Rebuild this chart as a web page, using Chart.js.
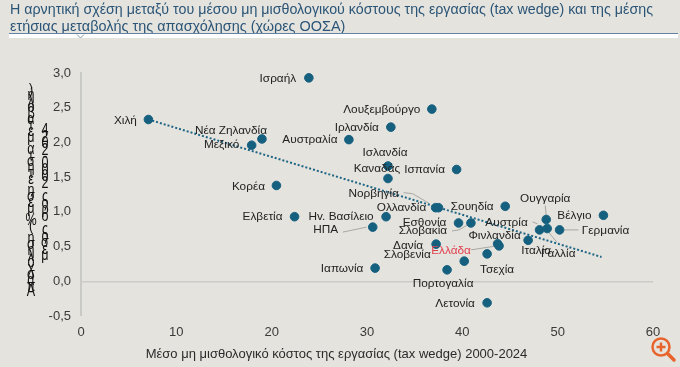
<!DOCTYPE html>
<html lang="el">
<head>
<meta charset="utf-8">
<script src="https://cdn.jsdelivr.net/npm/chart.js@4"></script>
<style>
html,body{margin:0;padding:0;background:#e4e3de;width:680px;height:367px;overflow:hidden}
canvas{display:block;filter:blur(0.35px)}
</style>
</head>
<body>
<canvas id="c" width="680" height="367"></canvas>
<script>
const titleLines = ["Η αρνητική σχέση μεταξύ του μέσου μη μισθολογικού κόστους της εργασίας (tax wedge) και της μέσης","ετήσιας μεταβολής της απασχόλησης (χώρες ΟΟΣΑ)"];
const xTitle = "Μέσο μη μισθολογικό κόστος της εργασίας (tax wedge) 2000-2024";
const yTitleOuter = "Απασχόληση (% μέση ετήσια μεταβολή)";
const yTitleInner = "μέσος όρος 2000-2024";
const countries = ["Ισραήλ","Χιλή","Νέα Ζηλανδία","Μεξικό","Κορέα","Αυστραλία","Λουξεμβούργο","Ιρλανδία","Ισλανδία","Καναδάς","Ισπανία","Ελβετία","Ηv. Βασίλειο","ΗΠΑ","Ιαπωνία","Νορβηγία","Ολλανδία","Σουηδία","Ουγγαρία","Βέλγιο","Γερμανία","Αυστρία","Γαλλία","Εσθονία","Σλοβακία","Φινλανδία","Ελλάδα","Ιταλία","Δανία","Τσεχία","Σλοβενία","Πορτογαλία","Λετονία"];
const taxWedge = [23.9,7.07,18.98,17.9,20.5,28.1,36.8,32.5,32.2,32.2,39.4,22.4,32.0,30.6,30.85,37.2,37.5,44.5,48.8,54.8,50.2,48.1,48.9,39.6,40.9,43.7,43.85,46.9,37.25,42.6,40.2,38.4,42.6];
const employmentGrowth = [2.93,2.33,2.05,1.96,1.38,2.04,2.48,2.22,1.66,1.48,1.61,0.93,0.93,0.78,0.19,1.06,1.06,1.08,0.89,0.95,0.74,0.74,0.76,0.84,0.84,0.54,0.51,0.59,0.535,0.395,0.29,0.165,-0.31];
const trendX = [7.07,54.6];
const trendY = [2.33,0.35];
const xTicks = [0,10,20,30,40,50,60];
const yTicks = [-0.5,0,0.5,1,1.5,2,2.5,3];

// label placement, in pixels relative to each point
const labelOffsets = {"Ισραήλ":[-31,1],"Χιλή":[-23,1],"Νέα Ζηλανδία":[-31,-8],"Μεξικό":[-30,0],"Κορέα":[-28,1],"Αυστραλία":[-39,0],"Λουξεμβούργο":[-50,1],"Ιρλανδία":[-34,1],"Ισλανδία":[-3,-13],"Καναδάς":[-11,-10],"Ισπανία":[-32,0],"Ελβετία":[-32,0],"Ηv. Βασίλειο":[-45,0],"ΗΠΑ":[-47,3],"Ιαπωνία":[-33,1],"Νορβηγία":[-62,-14],"Ολλανδία":[-37,0],"Σουηδία":[-33,0],"Ουγγαρία":[-1,-21],"Βέλγιο":[-29,0],"Γερμανία":[46,1],"Αυστρία":[-33,-7],"Γαλλία":[11,25],"Εσθονία":[-34,0],"Σλοβακία":[-48,8],"Φινλανδία":[-3,-8],"Ελλάδα":[-48,5],"Ιταλία":[8,10],"Δανία":[-28,2],"Τσεχία":[10,16],"Σλοβενία":[-57,-6],"Πορτογαλία":[-4,14],"Λετονία":[-32,1]};
const leaderPaths = {"Νορβηγία":[[-32,-15],[-23,-14],[-6,-4]],"ΗΠΑ":[[-30,5],[-6,0]],"Σλοβακία":[[-19,8],[-12,7],[0,0]],"Ελλάδα":[[-28,4],[-2,0]],"Ουγγαρία":[[-1,-14],[0,-4]],"Αυστρία":[[-7,-8],[-2,-6]],"Γαλλία":[[0,2],[10,14]],"Γερμανία":[[4,0],[19,0]]};

function stackedLetters(ctx,text,x,startY,step){
  [...text].forEach((ch,i)=>{
    ctx.save();
    ctx.translate(x,startY-i*step);
    ctx.scale(1.05,1.35);
    ctx.fillText(ch,0,0);
    ctx.restore();
  });
}

const annotate = {
  id:'annotate',
  beforeDatasetsDraw(chart){
    const ctx=chart.ctx, m=chart.getDatasetMeta(0);
    ctx.save();
    ctx.fillStyle='#ffffff'; ctx.fillRect(9,34,669,4);
    ctx.fillStyle='#6482a2'; ctx.fillRect(9,33,669,1);
    ctx.strokeStyle='#8a9aa8'; ctx.lineWidth=1;
    ctx.beginPath(); ctx.moveTo(77,34.5); ctx.lineTo(80.5,38); ctx.lineTo(84,34.5); ctx.stroke();
    ctx.strokeStyle='#a8a8a4'; ctx.lineWidth=1;
    countries.forEach((n,i)=>{
      const p=leaderPaths[n]; if(!p) return;
      const e=m.data[i];
      ctx.beginPath();
      p.forEach((q,k)=>{ const x=e.x+q[0], y=e.y+q[1]; k?ctx.lineTo(x,y):ctx.moveTo(x,y); });
      ctx.stroke();
    });
    ctx.fillStyle='#111'; ctx.font='12px "Liberation Sans"'; ctx.textAlign='center'; ctx.textBaseline='middle';
    stackedLetters(ctx,yTitleOuter,31,292,5.94);
    stackedLetters(ctx,yTitleInner,45,256,6.6);
    ctx.fillStyle='#2b2b2b'; ctx.font='13px "Liberation Sans"';
    ctx.fillText(xTitle,336.5,354);
    ctx.restore();
  },
  afterDatasetsDraw(chart){
    const ctx=chart.ctx, m=chart.getDatasetMeta(0);
    ctx.save();
    ctx.font='11.8px "Liberation Sans"'; ctx.textAlign='center'; ctx.textBaseline='middle';
    countries.forEach((n,i)=>{
      const e=m.data[i], o=labelOffsets[n];
      ctx.fillStyle = n==='Ελλάδα' ? '#e0404f' : '#222';
      ctx.fillText(n,e.x+o[0],e.y+o[1]);
    });
    ctx.strokeStyle='#e8642c'; ctx.lineWidth=2.5;
    ctx.beginPath(); ctx.arc(661,347,8.5,0,Math.PI*2); ctx.stroke();
    ctx.lineCap='round'; ctx.lineWidth=3.5;
    ctx.beginPath(); ctx.moveTo(667.5,353.5); ctx.lineTo(674,360); ctx.stroke();
    ctx.lineCap='butt'; ctx.lineWidth=2.5;
    ctx.beginPath(); ctx.moveTo(656.5,347); ctx.lineTo(665.5,347); ctx.moveTo(661,342.5); ctx.lineTo(661,351.5); ctx.stroke();
    ctx.restore();
  }
};

new Chart(document.getElementById('c'),{
  type:'scatter',
  data:{datasets:[
    {label:'Χώρες',data:taxWedge.map((x,i)=>({x,y:employmentGrowth[i]})),backgroundColor:'#16607f',borderColor:'#16607f',pointRadius:4.3,order:1},
    {type:'line',label:'Τάση',data:trendX.map((x,i)=>({x,y:trendY[i]})),borderColor:'#1f6585',borderWidth:2,borderDash:[2,2],pointRadius:0,fill:false,order:2}
  ]},
  plugins:[annotate],
  options:{
    responsive:false,animation:false,
    layout:{padding:{left:10,right:27,top:1,bottom:0}},
    plugins:{
      legend:{display:false},tooltip:{enabled:false},
      title:{display:true,text:titleLines,align:'start',color:'#2b5577',
        font:{family:'"Liberation Sans"',size:14.45,weight:'normal',lineHeight:1.2},
        padding:{top:0,bottom:37.3}}
    },
    scales:{
      x:{type:'linear',min:0,max:60,
        afterBuildTicks(s){s.ticks=xTicks.map(value=>({value}));},
        afterFit(s){s.height=51;},
        border:{display:false},grid:{display:false},
        ticks:{padding:1,maxRotation:0,color:'#3a3a3a',font:{family:'"Liberation Sans"',size:13}},
        title:{display:false}
      },
      y:{type:'linear',min:-0.5,max:3,
        afterBuildTicks(s){s.ticks=yTicks.map(value=>({value}));},
        afterFit(s){s.width=71;},
        border:{display:true,color:'#c9c9c5',width:2},
        grid:{drawTicks:false,lineWidth:c=>c.tick&&c.tick.value===0?1.5:0,color:'#cbcbc7'},
        ticks:{padding:10,color:'#3a3a3a',font:{family:'"Liberation Sans"',size:13},callback:v=>v.toFixed(1).replace('.',',')}
      }
    }
  }
});
</script>
</body>
</html>
